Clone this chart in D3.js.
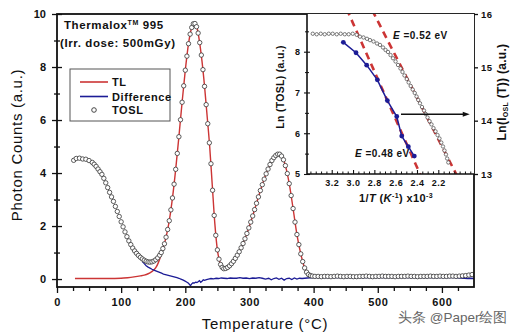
<!DOCTYPE html>
<html><head><meta charset="utf-8">
<script src="https://cdn.jsdelivr.net/npm/d3@7"></script>
<style>
body{margin:0;background:#fff;}
svg text{font-family:Arial,"Liberation Sans",sans-serif;}
</style></head><body>
<svg id="c" width="515" height="334"></svg>
<script>
// ---------------- DATA ----------------
const xMajorTicks = [0,100,200,300,400,500,600];
const yMajorTicks = [0,2,4,6,8,10];
const insetXTicks = [3.2,3.0,2.8,2.6,2.4,2.2];
const insetLeftTicks = [5,6,7,8];
const insetRightTicks = [13,14,15,16];
const seriesNames = ["TL","Difference","TOSL"];

// TOSL (circles): [temperature °C, counts]
const toslSeries = [
[26,4.48],[30,4.55],[35,4.56],[40,4.53],[45,4.52],[50,4.47],[55,4.40],
[58,4.33],[61,4.25],[64,4.15],[67,4.05],[70,3.95],[73,3.80],[76,3.63],[79,3.45],[82,3.27],[85,3.10],
[88,2.93],[91,2.74],[94,2.55],[97,2.36],[100,2.16],[103,1.97],[106,1.78],[109,1.60],[112,1.44],[115,1.30],
[118,1.17],[121,1.06],[124,0.97],[127,0.89],[130,0.82],[133,0.76],[136,0.71],[139,0.67],[142,0.645],[145,0.64],
[148,0.65],[151,0.68],[154,0.73],[157,0.80],
[160,0.90],[162.5,1.00],[165,1.15],[167.5,1.33],[170,1.58],[172.5,1.87],[175,2.20],[177.5,2.61],[180,3.06],
[182.5,3.58],[185,4.14],[187.5,4.74],[190,5.37],[192.5,6.01],[195,6.67],[197.5,7.29],[200,7.88],[202.5,8.41],
[205,8.88],[207.5,9.24],[210,9.49],[212.5,9.63],[215,9.64],[217.5,9.52],[220,9.28],[222.5,8.92],[225,8.45],
[227.5,7.90],[230,7.27],[232.5,6.58],[235,5.86],[237.5,5.14],[240,4.35],[242.5,3.35],[245,2.40],[247.5,1.65],
[250,1.10],[252.5,0.75],[255,0.55],[257.5,0.44],
[260,0.39],[263,0.40],[266,0.44],[269,0.50],[272,0.58],[275,0.67],[278,0.78],[281,0.90],[284,1.03],[287,1.18],
[290,1.34],[293,1.52],[296,1.72],[299,1.93],[302,2.15],[305,2.38],[308,2.62],[311,2.86],[314,3.10],[317,3.34],
[320,3.56],[323,3.77],[326,3.97],[329,4.15],[332,4.32],[335,4.47],[338,4.58],[341,4.66],[344,4.71],[347,4.71],
[350,4.64],[353,4.50],[356,4.28],[359,3.98],[362,3.60],[365,3.15],[368,2.66],[371,2.15],[374,1.68],[377,1.30],
[380,0.95],[383,0.66],[386,0.42],[389,0.26],[392,0.17],[395,0.13],[398,0.11],
[402,0.10],[407,0.10],[412,0.09],[417,0.10],[422,0.10],[427,0.09],[432,0.10],[437,0.11],[442,0.10],[447,0.09],
[452,0.10],[457,0.10],[462,0.09],[467,0.09],[472,0.10],[477,0.10],[482,0.11],[487,0.10],[492,0.09],[497,0.10],
[502,0.10],[507,0.11],[512,0.10],[517,0.10],[522,0.10],[527,0.09],[532,0.10],[537,0.10],[542,0.10],[547,0.11],
[552,0.10],[557,0.10],[562,0.09],[567,0.10],[572,0.10],[577,0.10],[582,0.11],[587,0.10],[592,0.10],[597,0.11],
[602,0.10],[607,0.10],[612,0.11],[617,0.11],[622,0.10],[627,0.11],[632,0.12],[637,0.13],[642,0.15],[647,0.17]
];

// TL (red line)
const tlSeries = [
[28,0.02],[40,0.02],[60,0.02],[80,0.02],[100,0.03],[110,0.05],[120,0.08],[130,0.12],[136,0.15],[142,0.20],
[146,0.25],[150,0.32],[154,0.43],[158,0.62],[162,0.90],[166,1.22],[170,1.58],[175,2.20],[180,3.06],[185,4.14],
[190,5.37],[195,6.67],[200,7.88],[205,8.88],[210,9.49],[214,9.66],[218,9.50],[222,8.98],[226,8.22],[230,7.27],
[234,6.15],[238,5.00],[242,3.55],[246,2.10],[250,1.10],[254,0.62],[258,0.42],[262,0.39],[266,0.43],[272,0.58],
[278,0.78],[284,1.03],[290,1.34],[296,1.72],[302,2.15],[308,2.62],[314,3.10],[320,3.56],[326,3.97],[332,4.32],
[338,4.58],[344,4.71],[350,4.64],[356,4.28],[362,3.60],[368,2.66],[374,1.68],[380,0.95],[386,0.42],[392,0.17],
[398,0.11],[420,0.10],[450,0.10],[500,0.10],[550,0.10],[600,0.10],[630,0.11],[650,0.14]
];

// Difference (blue line)
const diffSeries = [
[133,0.66],[136,0.58],[139,0.50],[142,0.45],[145,0.41],[148,0.37],[151,0.34],[154,0.31],[157,0.28],[160,0.25],
[163,0.22],[166,0.19],[169,0.17],[172,0.15],[175,0.13],[178,0.11],[181,0.09],[184,0.07],[187,0.05],[190,0.03],
[193,0.0],[196,-0.03],[199,-0.07],[202,-0.11],[205,-0.16],[207,-0.22],[208,-0.25],[210,-0.18],[212,-0.14],[214,-0.15],
[216,-0.12],[218,-0.13],[220,-0.10],[222,-0.06],[224,-0.12],[226,-0.08],[228,-0.03],[230,-0.05],[233,-0.02],[236,0.0],
[240,0.02],[244,0.01],[248,0.03],[252,0.02],[256,0.04],[260,0.03],[265,0.02],[270,0.04],[275,0.03],[280,0.03],
[285,0.05],[290,0.03],[295,0.04],[300,0.02],[305,0.04],[310,0.03],[315,0.05],[320,0.03],[325,0.0],[330,0.03],
[334,-0.03],[338,0.02],[342,0.04],[346,-0.01],[350,0.03],[354,-0.04],[358,0.02],[362,0.03],[366,-0.02],[370,0.04],
[374,0.0],[378,0.03],[382,0.02],[386,0.03],[390,0.04],[400,0.05],[410,0.06],[420,0.05],[430,0.06],[440,0.05],
[450,0.06],[460,0.05],[470,0.06],[480,0.05],[490,0.06],[500,0.05],[510,0.06],[520,0.05],[530,0.06],[540,0.05],
[550,0.06],[560,0.05],[570,0.06],[580,0.05],[590,0.06],[600,0.05],[610,0.06],[620,0.05],[630,0.04],[640,0.02],
[645,0.03],[650,0.02]
];

// Inset: Ln(I_OSL(T)) circles vs 1/T (x10^-3 K^-1), right axis
const insetOslSeries = [
[3.378,15.63],[3.341,15.62],[3.303,15.63],[3.266,15.62],[3.228,15.63],[3.191,15.63],[3.153,15.62],[3.116,15.63],
[3.078,15.62],[3.041,15.62],[3.003,15.63],[2.966,15.61],[2.935,15.575],[2.902,15.56],[2.869,15.535],[2.841,15.51],
[2.808,15.485],[2.775,15.447],[2.747,15.42],[2.719,15.372],[2.695,15.325],[2.672,15.288],[2.648,15.23],[2.625,15.17],
[2.601,15.11],[2.578,15.044],[2.555,14.978],[2.536,14.913],[2.517,14.847],[2.496,14.78],[2.478,14.716],[2.459,14.65],
[2.44,14.584],[2.421,14.519],[2.404,14.453],[2.388,14.388],[2.372,14.326],[2.353,14.256],[2.334,14.19],[2.318,14.125],
[2.301,14.06],[2.282,13.99],[2.264,13.93],[2.245,13.86],[2.226,13.80],[2.207,13.73],[2.189,13.666],[2.172,13.59],
[2.156,13.516],[2.142,13.44],[2.128,13.366],[2.117,13.29],[2.106,13.216]
];
// Inset: Ln(TOSL) blue points, left axis
const insetToslSeries = [
[3.091,8.23],[2.972,7.975],[2.872,7.67],[2.772,7.31],[2.678,6.80],[2.590,6.41],[2.543,5.93],[2.481,5.67],[2.425,5.44]
];
// Arrhenius fit lines (dashed)
const fit048 = [[3.06,9.05],[2.37,4.99]];   // left axis
const fit052 = [[2.82,16.07],[2.02,12.95]]; // right axis
const arrowLine = [[2.55,14.12],[1.905,14.12]]; // right axis

// ---------------- DRAW ----------------
const svg = d3.select('#c');
const RED = '#cc3535', BLUE = '#1c1c96', DARK = '#333';
svg.append('rect').attr('width',515).attr('height',334).attr('fill','#fff');

const M = {l:57, r:474, t:14, b:287};
const I = {l:307, r:474, t:14, b:174};

const x = d3.scaleLinear().domain([0,650]).range([M.l, M.r]);
const y = d3.scaleLinear().domain([-0.3,10]).range([M.b, M.t]);
const ix = d3.scaleLinear().domain([3.432,1.865]).range([I.l, I.r]);
const iyL = d3.scaleLinear().domain([5,8.925]).range([I.b, I.t]);
const iyR = d3.scaleLinear().domain([13,16]).range([I.b, I.t]);

const defs = svg.append('defs');
defs.append('clipPath').attr('id','cm').append('rect')
  .attr('x',M.l).attr('y',M.t).attr('width',M.r-M.l).attr('height',M.b-M.t);
defs.append('clipPath').attr('id','ci').append('rect')
  .attr('x',I.l).attr('y',I.t).attr('width',I.r-I.l).attr('height',I.b-I.t);

const gm = svg.append('g').attr('clip-path','url(#cm)');
gm.append('path').datum(tlSeries)
  .attr('d', d3.line().x(d=>x(d[0])).y(d=>y(d[1])).curve(d3.curveMonotoneX))
  .attr('fill','none').attr('stroke',RED).attr('stroke-width',1.4);
gm.append('path').datum(diffSeries)
  .attr('d', d3.line().x(d=>x(d[0])).y(d=>y(d[1])))
  .attr('fill','none').attr('stroke',BLUE).attr('stroke-width',1.3);
gm.selectAll('circle.t').data(toslSeries).join('circle')
  .attr('cx',d=>x(d[0])).attr('cy',d=>y(d[1])).attr('r',2.2)
  .attr('fill','#fff').attr('stroke',DARK).attr('stroke-width',0.8);

// main axes
function styleText(g, size){
  g.selectAll('text').attr('font-size',size).attr('font-weight','bold').attr('fill','#111')
   .attr('font-family','Arial, "Liberation Sans", sans-serif');
  g.select('.domain').remove();
  g.selectAll('line').attr('stroke','#111').attr('stroke-width',1.3);
}
const xMinor = d3.range(25,650,25).filter(v=>v%100!==0);
let g = svg.append('g').attr('transform',`translate(0,${M.b})`)
  .call(d3.axisBottom(x).tickValues(xMinor).tickSize(4).tickFormat(''));
styleText(g,11);
g = svg.append('g').attr('transform',`translate(0,${M.b})`)
  .call(d3.axisBottom(x).tickValues(xMajorTicks).tickSize(6).tickPadding(5).tickFormat(d3.format('d')));
styleText(g,11);
g.selectAll('text').attr('letter-spacing',0.6);

g = svg.append('g').attr('transform',`translate(${M.l},0)`)
  .call(d3.axisLeft(y).tickValues([1,3,5,7,9]).tickSize(3).tickFormat(''));
styleText(g,11); g.selectAll('line').attr('x1',3);
g = svg.append('g').attr('transform',`translate(${M.l},0)`)
  .call(d3.axisLeft(y).tickValues(yMajorTicks).tickSize(5).tickPadding(6).tickFormat(d3.format('d')));
styleText(g,11); g.selectAll('line').attr('x1',5);

// main frame
svg.append('rect').attr('x',M.l).attr('y',M.t).attr('width',M.r-M.l).attr('height',M.b-M.t)
  .attr('fill','none').attr('stroke','#111').attr('stroke-width',1.8);

// header text
const t1 = svg.append('text').attr('x',64).attr('y',29).attr('font-size',11.5).attr('font-weight','bold')
  .attr('letter-spacing',0.6).attr('fill','#111');
t1.append('tspan').text('Thermalox');
t1.append('tspan').attr('font-size',7).attr('dy',-4).text('TM');
t1.append('tspan').attr('dy',4).text(' 995');
svg.append('text').attr('x',60).attr('y',47).attr('font-size',11.5).attr('font-weight','bold')
  .attr('letter-spacing',0.6).attr('fill','#111').text('(Irr. dose: 500mGy)');

// legend
svg.append('rect').attr('x',70).attr('y',69).attr('width',100).attr('height',52)
  .attr('fill','#fff').attr('stroke','#555').attr('stroke-width',1);
const lg = svg.append('g');
lg.append('line').attr('x1',80).attr('x2',108).attr('y1',82).attr('y2',82).attr('stroke',RED).attr('stroke-width',1.6);
lg.append('line').attr('x1',80).attr('x2',108).attr('y1',96.5).attr('y2',96.5).attr('stroke',BLUE).attr('stroke-width',1.6);
lg.append('circle').attr('cx',94).attr('cy',110).attr('r',2.3).attr('fill','#fff').attr('stroke',DARK).attr('stroke-width',0.9);
[[86,seriesNames[0]],[100.5,seriesNames[1]],[114,seriesNames[2]]].forEach(([yy,tx])=>{
  lg.append('text').attr('x',112).attr('y',yy).attr('font-size',11).attr('font-weight','bold')
    .attr('letter-spacing',0.6).attr('fill','#111').text(tx);
});

// axis titles
svg.append('text').attr('x',265).attr('y',329).attr('text-anchor','middle').attr('font-size',15)
  .attr('letter-spacing',0.7).attr('fill','#111').text('Temperature (°C)');
svg.append('text').attr('transform','translate(22,145) rotate(-90)').attr('text-anchor','middle')
  .attr('font-size',15).attr('letter-spacing',0.7).attr('fill','#111').text('Photon Counts (a.u.)');

// ---------------- INSET ----------------
svg.append('rect').attr('x',I.l).attr('y',I.t).attr('width',I.r-I.l).attr('height',I.b-I.t).attr('fill','#fff');
const gi = svg.append('g').attr('clip-path','url(#ci)');
gi.append('path').datum(fit048)
  .attr('d', d3.line().x(d=>ix(d[0])).y(d=>iyL(d[1])))
  .attr('stroke',RED).attr('stroke-width',2.6).attr('stroke-dasharray','7,5').attr('fill','none');
gi.append('path').datum(fit052)
  .attr('d', d3.line().x(d=>ix(d[0])).y(d=>iyR(d[1])))
  .attr('stroke',RED).attr('stroke-width',2.6).attr('stroke-dasharray','7,5').attr('fill','none');
gi.selectAll('circle.o').data(insetOslSeries).join('circle')
  .attr('cx',d=>ix(d[0])).attr('cy',d=>iyR(d[1])).attr('r',1.7)
  .attr('fill','#fff').attr('stroke','#444').attr('stroke-width',0.7);
gi.append('path').datum(insetToslSeries)
  .attr('d', d3.line().x(d=>ix(d[0])).y(d=>iyL(d[1])))
  .attr('stroke',BLUE).attr('stroke-width',1.5).attr('fill','none');
gi.selectAll('circle.b').data(insetToslSeries).join('circle')
  .attr('cx',d=>ix(d[0])).attr('cy',d=>iyL(d[1])).attr('r',2.4).attr('fill',BLUE);

// arrow
const ax1 = ix(arrowLine[0][0]), ax2 = ix(arrowLine[1][0]), ay = iyR(arrowLine[0][1]);
svg.append('line').attr('x1',ax1).attr('x2',ax2-5).attr('y1',ay).attr('y2',ay).attr('stroke','#111').attr('stroke-width',1.3);
svg.append('path').attr('d',`M${ax2},${ay} L${ax2-7},${ay-2.5} L${ax2-7},${ay+2.5} Z`).attr('fill','#111');

// inset axes
const ixMinor = d3.range(1.9,3.42,0.05).map(v=>+v.toFixed(2)).filter(v=>!insetXTicks.some(t=>Math.abs(t-v)<1e-6));
g = svg.append('g').attr('transform',`translate(0,${I.b})`)
  .call(d3.axisBottom(ix).tickValues(ixMinor).tickSizeInner(-2.5).tickSizeOuter(0).tickFormat(''));
styleText(g,9); g.selectAll('line').attr('stroke-width',1);
g = svg.append('g').attr('transform',`translate(0,${I.b})`)
  .call(d3.axisBottom(ix).tickValues(insetXTicks).tickSizeInner(-4).tickSizeOuter(0).tickPadding(6).tickFormat(d3.format('.1f')));
styleText(g,9); g.selectAll('line').attr('stroke-width',1.1); g.selectAll('text').attr('letter-spacing',0.5);

g = svg.append('g').attr('transform',`translate(${I.l},0)`)
  .call(d3.axisLeft(iyL).tickValues([5.5,6.5,7.5,8.5]).tickSize(2).tickFormat(''));
styleText(g,9); g.selectAll('line').attr('x1',2).attr('stroke-width',1);
g = svg.append('g').attr('transform',`translate(${I.l},0)`)
  .call(d3.axisLeft(iyL).tickValues(insetLeftTicks).tickSize(3).tickPadding(4).tickFormat(d3.format('d')));
styleText(g,9); g.selectAll('line').attr('x1',3).attr('stroke-width',1.1);

g = svg.append('g').attr('transform',`translate(${I.r},0)`)
  .call(d3.axisRight(iyR).tickValues(insetRightTicks).tickSize(4).tickPadding(3).tickFormat(d3.format('d')));
styleText(g,9.5); g.selectAll('text').attr('letter-spacing',0.4);

svg.append('line').attr('x1',I.l).attr('x2',I.l).attr('y1',I.t).attr('y2',I.b).attr('stroke','#111').attr('stroke-width',1.6);
svg.append('line').attr('x1',I.l).attr('x2',I.r).attr('y1',I.b).attr('y2',I.b).attr('stroke','#111').attr('stroke-width',1.6);

// inset labels
svg.append('text').attr('transform','translate(284,87) rotate(-90)').attr('text-anchor','middle')
  .attr('font-size',10.5).attr('font-weight','bold').attr('letter-spacing',0.3).attr('fill','#111').text('Ln (TOSL) (a.u.)');
const rl = svg.append('text').attr('transform','translate(506,92) rotate(-90)').attr('text-anchor','middle')
  .attr('font-size',12).attr('font-weight','bold').attr('letter-spacing',0.3).attr('fill','#111');
rl.append('tspan').text('Ln(I');
rl.append('tspan').attr('font-size',7).attr('dy',2).text('OSL');
rl.append('tspan').attr('dy',-2).text(' (T)) (a.u.)');

const xl = svg.append('text').attr('x',396).attr('y',202).attr('text-anchor','middle')
  .attr('font-size',11).attr('font-weight','bold').attr('letter-spacing',0.4).attr('fill','#111');
xl.append('tspan').text('1/');
xl.append('tspan').attr('font-style','italic').text('T');
xl.append('tspan').text('  (');
xl.append('tspan').attr('font-style','italic').text('K');
xl.append('tspan').attr('font-size',7).attr('dy',-4).text('-1');
xl.append('tspan').attr('dy',4).text(')   x10');
xl.append('tspan').attr('font-size',7).attr('dy',-4).text('-3');

function eLabel(xx, yy, val){
  const t = svg.append('text').attr('x',xx).attr('y',yy).attr('font-size',10).attr('font-weight','bold')
    .attr('letter-spacing',0.5).attr('fill','#111');
  t.append('tspan').attr('font-style','italic').text('E');
  t.append('tspan').text(' =' + val + ' eV');
}
eLabel(393,39,'0.52');
eLabel(355,157,'0.48');

// watermark
svg.append('text').attr('x',398).attr('y',322).attr('font-size',13.5)
  .attr('font-family','"Noto Sans CJK SC", sans-serif').attr('fill','#666').text('头条 @Paper绘图');
</script></body></html>
